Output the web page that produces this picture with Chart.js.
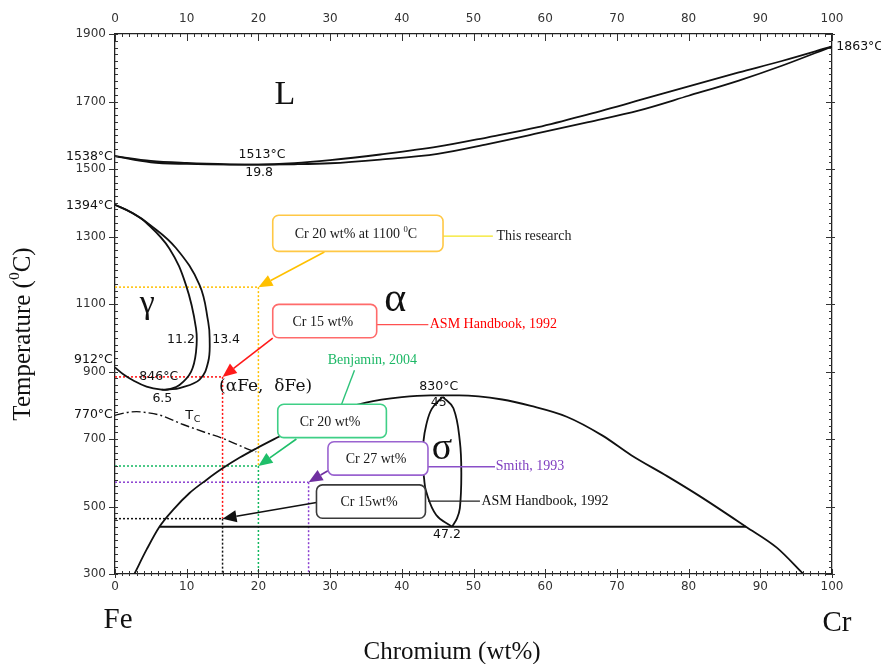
<!DOCTYPE html>
<html><head><meta charset="utf-8">
<script src="https://cdn.jsdelivr.net/npm/chart.js@4.4.1/dist/chart.umd.min.js"></script>
<style>html,body{margin:0;padding:0;background:#fff;}canvas{display:block;}</style>
</head><body>
<canvas id="c" width="881" height="664"></canvas>
<script>
// ---------------- data (wt% Cr, temperature °C) ----------------
const xTickLabels = [0,10,20,30,40,50,60,70,80,90,100];
const yTickLabels = [300,500,700,900,1100,1300,1500,1700,1900];

const liquidus = [[0,1538],[5,1524],[10,1518],[16,1514],[20,1513],[25,1517],[30,1526],[37,1543],[45,1566],[52,1594],[59,1624],[66,1662],[73,1703],[80,1745],[87,1786],[93,1820],[100,1863]];
const solidus  = [[0,1538],[5,1520],[10,1515],[16,1513],[20,1513],[25,1514],[30,1517],[37,1528],[45,1545],[52,1574],[59,1606],[66,1639],[73,1673],[80,1717],[87,1762],[93,1806],[100,1863]];
const gammaOuter = [[0,1394],[2.4,1370],[4.8,1336],[8.5,1266],[11.8,1156],[13.0,1047],[13.2,998],[13.0,929],[11.8,876],[9.0,851],[7.6,847],[6.5,846],[4.4,855],[2.5,874],[1.2,891],[0,912]];
const gammaInner = [[0,1394],[2.2,1372],[4.4,1340],[7.6,1264],[9.9,1156],[11.3,1028],[11.3,958],[10.6,899],[9.0,860],[7.6,848],[6.5,846]];
const curieLine  = [[0,770],[1.5,778],[3,781],[4.5,778],[6.2,771],[9.5,743],[12.5,720],[15,702],[18.8,668],[19.7,662]];
const sigmaSolvus = [[2.7,300],[4.4,372],[6.2,440],[8.1,490],[10.4,540],[12.7,578],[15,613],[17.4,645],[19.7,672],[22.7,705],[28,762],[35,808],[40,824],[44,829],[48,829],[54,817],[58,798],[63,766],[68,710],[72,652],[77,590],[81.6,530],[88,440],[92.3,378],[96,300]];
const sigmaLeft  = [[45.7,825],[44.2,790],[43.4,741],[43.0,690],[42.9,633],[43.1,585],[43.4,544],[44.8,475],[47.0,440]];
const sigmaRight = [[45.7,825],[47.2,791],[48.1,692],[48.3,593],[48.1,495],[47.7,465],[47.0,440]];
const eutectoid  = [[6.2,440],[88,440]];

// reference points marked on the diagram
const refCr     = [20, 15, 20, 27, 15];
const refTemp   = [1150, 884, 620, 572, 464];
const refDropTo = [620, 464, 300, 300, 300];
const refNames  = ['Cr 20 wt% at 1100 ^0C', 'Cr 15 wt%', 'Cr 20 wt%', 'Cr 27 wt%', 'Cr 15wt%'];
const refSource = ['This research', 'ASM Handbook, 1992', 'Benjamin, 2004', 'Smith, 1993', 'ASM Handbook, 1992'];

// ---------------- styling ----------------
const SERIF = '"Liberation Serif", "Times New Roman", serif';
const SANS = '"DejaVu Sans", sans-serif';
const refStyle = [
  {dot:'#ffc000', border:'#ffc845', arrow:'#ffc000', leader:'#f3e51f', src:'#222'},
  {dot:'#ff1010', border:'#ff6b6b', arrow:'#ff1a1a', leader:'#ff5050', src:'#ff0000'},
  {dot:'#12b860', border:'#3fcf86', arrow:'#1fbf6a', leader:'#2ec27a', src:'#1db866'},
  {dot:'#8a3fd0', border:'#9a63d0', arrow:'#7030a0', leader:'#8a4fc8', src:'#8040c0'},
  {dot:'#111', border:'#3a3a3a', arrow:'#111', leader:'#222', src:'#111'}
];
// callout layout in data coordinates: box [x0,x1,yTop,yBottom], arrow start, leader line, source text anchor
const calloutLayout = [
  {box:[22.0,45.75,1363,1256], from:[29.2,1254], leader:[[45.75,1301],[52.7,1301]], srcAt:[53.2,1301], srcAlign:'left'},
  {box:[22.0,36.5,1099,1000],  from:[22.0,999],  leader:[[36.5,1039],[43.7,1039]], srcAt:[43.9,1039], srcAlign:'left'},
  {box:[22.7,37.85,803,704],   from:[25.3,700],  leader:[[33.4,904],[31.6,803]],   srcAt:[35.9,932], srcAlign:'center'},
  {box:[29.7,43.65,692,593],   from:[29.7,606],  leader:[[43.65,618],[53.0,618]],  srcAt:[53.1,618], srcAlign:'left'},
  {box:[28.1,43.3,564,465],    from:[28.1,512],  leader:[[43.65,516],[50.9,516]],  srcAt:[51.1,516], srcAlign:'left'}
];
const textLabels = [
  {t:'L', at:[23.7,1718], font:'34px '+SERIF},
  {t:'\u03b3', at:[4.5,1100], font:'34px '+SERIF},
  {t:'\u03b1', at:[39.1,1112], font:'42px '+SERIF},
  {t:'\u03c3', at:[45.6,670], font:'38px '+SERIF},
  {t:'(\u03b1Fe,  \u03b4Fe)', at:[21.0,854], font:'17px "DejaVu Serif", serif'},
  {t:'830\u00b0C', at:[45.15,855], font:'12.5px '+SANS},
  {t:'45', at:[45.15,806], font:'12.5px '+SANS},
  {t:'47.2', at:[46.3,416], font:'12.5px '+SANS},
  {t:'1513\u00b0C', at:[20.5,1543], font:'12.5px '+SANS},
  {t:'19.8', at:[20.1,1488], font:'12.5px '+SANS},
  {t:'11.2', at:[9.2,993], font:'12.5px '+SANS},
  {t:'13.4', at:[15.5,993], font:'12.5px '+SANS},
  {t:'846\u00b0C', at:[6.1,884], font:'12.5px '+SANS},
  {t:'6.5', at:[6.6,820], font:'12.5px '+SANS},
  {t:'1538\u00b0C', at:[-0.3,1537], font:'12.5px '+SANS, align:'right'},
  {t:'1394\u00b0C', at:[-0.3,1391], font:'12.5px '+SANS, align:'right'},
  {t:'912\u00b0C', at:[-0.3,936], font:'12.5px '+SANS, align:'right'},
  {t:'770\u00b0C', at:[-0.3,771], font:'12.5px '+SANS, align:'right'},
  {t:'1863\u00b0C', at:[100.6,1861], font:'12.5px '+SANS, align:'left'}
];

// ---------------- helpers ----------------
function parts(str){ // "^0" marks a superscript 0
  const out=[]; const re=/\^(.)/g; let last=0,m;
  while((m=re.exec(str))){ if(m.index>last) out.push([str.slice(last,m.index),0]); out.push([m[1],1]); last=m.index+2; }
  if(last<str.length) out.push([str.slice(last),0]); return out;
}
function drawRich(ctx, str, x, y, size, fam, align){
  const p=parts(str); let w=0;
  for(const [s,sup] of p){ ctx.font=(sup?size*0.62:size)+'px '+fam; w+=ctx.measureText(s).width; }
  let cx = align==='center'? x-w/2 : align==='right'? x-w : x;
  ctx.textAlign='left'; ctx.textBaseline='middle';
  for(const [s,sup] of p){ ctx.font=(sup?size*0.62:size)+'px '+fam; ctx.fillText(s,cx,sup? y-size*0.33 : y); cx+=ctx.measureText(s).width; }
}
function roundRect(ctx,x,y,w,h,r){ctx.beginPath();ctx.moveTo(x+r,y);ctx.arcTo(x+w,y,x+w,y+h,r);ctx.arcTo(x+w,y+h,x,y+h,r);ctx.arcTo(x,y+h,x,y,r);ctx.arcTo(x,y,x+w,y,r);ctx.closePath();}
function arrow(ctx,x1,y1,x2,y2,color){
  const a=Math.atan2(y2-y1,x2-x1), L=14, W=6;
  const bx=x2-L*Math.cos(a), by=y2-L*Math.sin(a);
  ctx.strokeStyle=color; ctx.fillStyle=color; ctx.lineWidth=1.6;
  ctx.beginPath(); ctx.moveTo(x1,y1); ctx.lineTo(bx,by); ctx.stroke();
  ctx.beginPath(); ctx.moveTo(x2,y2); ctx.lineTo(bx+W*Math.sin(a),by-W*Math.cos(a)); ctx.lineTo(bx-W*Math.sin(a),by+W*Math.cos(a)); ctx.closePath(); ctx.fill();
}
const pts = arr => arr.map(([x,y])=>({x,y}));

// ---------------- datasets ----------------
const phase = (d, extra={}) => Object.assign({data:pts(d), showLine:true, pointRadius:0, borderColor:'#111', borderWidth:1.8, tension:0.4, fill:false}, extra);
const mono = {cubicInterpolationMode:'monotone'};
const datasets = [
  phase(liquidus,mono), phase(solidus,mono), phase(gammaOuter), phase(gammaInner),
  phase(curieLine,{cubicInterpolationMode:'monotone', borderDash:[9,3,2,3], borderWidth:1.4}),
  phase(sigmaSolvus,mono), phase(sigmaLeft), phase(sigmaRight), phase(eutectoid,{tension:0})
];
refCr.forEach((c,i)=>{
  datasets.push(phase([[0,refTemp[i]],[c,refTemp[i]]],{borderColor:refStyle[i].dot,borderDash:[2,2],borderWidth:1.5,tension:0}));
  datasets.push(phase([[c,refTemp[i]],[c,refDropTo[i]]],{borderColor:refStyle[i].dot,borderDash:[2,2],borderWidth:1.5,tension:0}));
});

// ---------------- plugins ----------------
const decor = {
  id:'decor',
  afterDraw(chart){
    const {ctx, chartArea:a} = chart; const X=chart.scales.x, Y=chart.scales.y;
    const px=v=>X.getPixelForValue(v), py=v=>Y.getPixelForValue(v);
    ctx.save();
    ctx.strokeStyle='#333'; ctx.lineWidth=1;
    const seg=(x1,y1,x2,y2)=>{ctx.beginPath();ctx.moveTo(x1,y1);ctx.lineTo(x2,y2);ctx.stroke();};
    for(let v=0; v<=100; v+=1){
      const x=Math.round(px(v))+0.5, major=xTickLabels.includes(v);
      seg(x,a.top,x,a.top+(major?7:3));
      seg(x,a.bottom-(major?5:3),x,a.bottom+(major?4:2));
    }
    for(let v=300; v<=1900; v+=20){
      const y=Math.round(py(v))+0.5, major=yTickLabels.includes(v);
      seg(a.left-(major?6:0),y,a.left+3,y);
      seg(a.right-(major?6:3),y,a.right+(major?3:0),y);
    }
    ctx.fillStyle='#111';
    for(const l of textLabels){
      ctx.font=l.font; ctx.textAlign=l.align||'center'; ctx.textBaseline='middle';
      ctx.fillText(l.t, px(l.at[0]), py(l.at[1]));
    }
    ctx.font='13px '+SANS; ctx.textAlign='left'; ctx.fillText('T', px(9.8), py(770));
    ctx.font='9.5px '+SANS; ctx.fillText('C', px(11.0), py(758));
    refCr.forEach((c,i)=>{
      const L=calloutLayout[i], s=refStyle[i];
      const [x0,x1,t0,t1]=L.box; const bx=px(x0), by=py(t0), bw=px(x1)-bx, bh=py(t1)-by;
      ctx.strokeStyle=s.leader; ctx.lineWidth=1.4;
      ctx.beginPath(); ctx.moveTo(px(L.leader[0][0]),py(L.leader[0][1])); ctx.lineTo(px(L.leader[1][0]),py(L.leader[1][1])); ctx.stroke();
      arrow(ctx, px(L.from[0]), py(L.from[1]), px(c), py(refTemp[i]), s.arrow);
      roundRect(ctx,bx,by,bw,bh,6); ctx.fillStyle='#fff'; ctx.fill(); ctx.strokeStyle=s.border; ctx.lineWidth=1.6; ctx.stroke();
      ctx.fillStyle='#1a1a1a'; drawRich(ctx, refNames[i], bx+bw/2-2, by+bh/2+1, 14, SERIF, 'center');
      ctx.fillStyle=s.src; ctx.font='14px '+SERIF; ctx.textAlign=L.srcAlign; ctx.textBaseline='middle';
      ctx.fillText(refSource[i], px(L.srcAt[0]), py(L.srcAt[1]));
    });
    ctx.fillStyle='#111';
    ctx.font='25px '+SERIF; ctx.textAlign='center'; ctx.textBaseline='middle';
    ctx.fillText('Chromium (wt%)', 452, 652);
    ctx.font='29px '+SERIF;
    ctx.fillText('Fe', 118, 620);
    ctx.fillText('Cr', 837, 623);
    ctx.translate(23, 334); ctx.rotate(-Math.PI/2);
    drawRich(ctx, 'Temperature (^0C)', 0, 0, 25, SERIF, 'center');
    ctx.restore();
  }
};

const tickFont = {family:'DejaVu Sans', size:12};
const axisBase = {grid:{drawOnChartArea:false, drawTicks:false}, border:{display:true, color:'#222', width:1.3}};
new Chart(document.getElementById('c'), {
  type:'scatter',
  data:{datasets},
  options:{
    responsive:false, animation:false, devicePixelRatio:1,
    layout:{padding:0},
    plugins:{legend:{display:false}, tooltip:{enabled:false}},
    scales:{
      x: Object.assign({}, axisBase, {type:'linear', position:'bottom', min:0, max:100,
          afterFit(s){s.height=90;},
          ticks:{stepSize:10, autoSkip:false, maxRotation:0, padding:6, color:'#333', font:tickFont,
                 callback:v=>xTickLabels.includes(v)?String(v):''}}),
      x2: Object.assign({}, axisBase, {type:'linear', position:'top', min:0, max:100,
          afterFit(s){s.height=34;},
          ticks:{stepSize:10, autoSkip:false, maxRotation:0, padding:8, color:'#333', font:tickFont,
                 callback:v=>xTickLabels.includes(v)?String(v):''}}),
      y: Object.assign({}, axisBase, {type:'linear', position:'left', min:300, max:1900,
          afterFit(s){s.width=115;},
          ticks:{stepSize:200, autoSkip:false, padding:9, color:'#333', font:tickFont,
                 callback:v=>yTickLabels.includes(v)?String(v):''}}),
      y2: Object.assign({}, axisBase, {type:'linear', position:'right', min:300, max:1900,
          afterFit(s){s.width=49;},
          ticks:{display:false}})
    }
  },
  plugins:[decor]
});
</script>
</body></html>
